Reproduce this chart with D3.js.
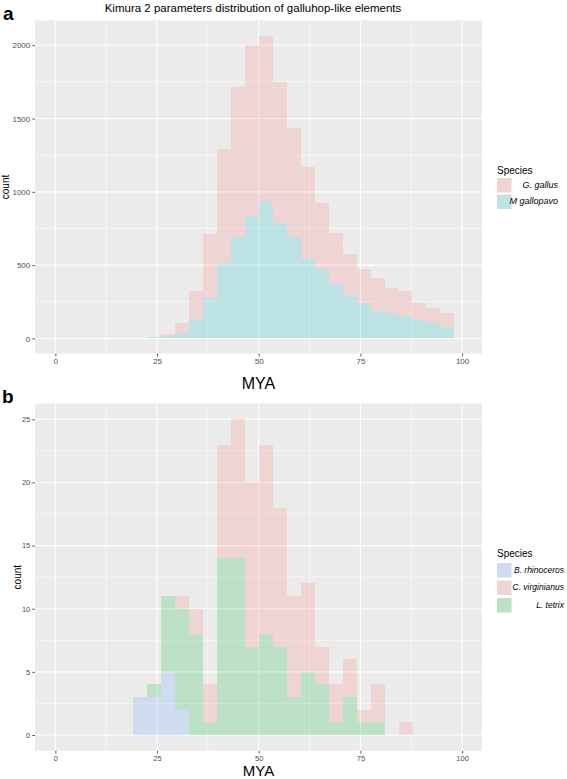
<!DOCTYPE html>
<html>
<head>
<meta charset="utf-8">
<script src="https://cdn.jsdelivr.net/npm/d3@7/dist/d3.min.js"></script>
<style>
  html, body { margin: 0; padding: 0; background: #fff; }
  svg { display: block; font-family: "Liberation Sans", Arial, Helvetica, sans-serif; }
</style>
</head>
<body>
<svg id="chart" width="567" height="779"></svg>
<script>
// ---------- Data ----------
const titleA = "Kimura 2 parameters distribution of galluhop-like elements";
const xTicks = [0, 25, 50, 75, 100];
const xMinorTicks = [12.5, 37.5, 62.5, 87.5];

// Panel a
const speciesA = ["G. gallus", "M gallopavo"];
const binStartA = [22.62, 26.05, 29.48, 32.91, 36.34, 39.77, 43.20, 46.63, 50.06, 53.49, 56.92,
                   60.35, 63.78, 67.21, 70.64, 74.07, 77.50, 80.93, 84.36, 87.79, 91.22, 94.65];
const binWidthA = 3.43;
const mGallopavo = [8, 16, 34, 130, 273, 512, 694, 837, 939, 789, 689, 541, 475, 371, 296, 239, 186, 171, 152, 125, 106, 79];
const gGallus    = [2, 13, 68, 195, 439, 780, 1019, 1165, 1127, 963, 744, 626, 451, 346, 279, 232, 224, 170, 173, 114, 99, 92];
const yTicksA = [0, 500, 1000, 1500, 2000];
const yMinorA = [250, 750, 1250, 1750];

// Panel b
const speciesB = ["B. rhinoceros", "C. virginianus", "L. tetrix"];
const binStartB = [19.03, 22.48, 25.92, 29.37, 32.81, 36.26, 39.71, 43.15, 46.60, 50.04,
                   53.49, 56.94, 60.38, 63.83, 67.27, 70.72, 74.17, 77.61, 81.06, 84.50];
const binWidthB = 3.446;
const bRhinoceros  = [3, 3, 5, 2, 0, 0, 0, 0, 0, 0, 0, 0, 0, 0, 0, 0, 0, 0, 0, 0];
const lTetrix      = [0, 1, 6, 8, 8, 1, 14, 14, 7, 8, 7, 3, 5, 4, 1, 3, 1, 1, 0, 0];
const cVirginianus = [0, 0, 0, 1, 2, 3, 9, 11, 13, 15, 11, 8, 7, 3, 3, 3, 1, 3, 0, 1];
const yTicksB = [0, 5, 10, 15, 20, 25];
const yMinorB = [2.5, 7.5, 12.5, 17.5, 22.5];

// ---------- Drawing ----------
const svg = d3.select("#chart");
const panelBg = "#EBEBEB";

function drawPanel(cfg) {
  const g = svg.append("g");
  const x = d3.scaleLinear().domain([-5, 104.9]).range([35, 482]);
  const y = d3.scaleLinear().domain(cfg.yDomain).range(cfg.yRange);
  const [x0, x1] = x.range();
  const [yb, yt] = y.range();

  g.append("rect").attr("x", x0).attr("y", yt).attr("width", x1 - x0).attr("height", yb - yt).attr("fill", panelBg);

  // minor grid
  g.selectAll(".gxm").data(xMinorTicks).join("line")
    .attr("x1", d => x(d)).attr("x2", d => x(d)).attr("y1", yt).attr("y2", yb)
    .attr("stroke", "#fff").attr("stroke-width", 0.55);
  g.selectAll(".gym").data(cfg.yMinor).join("line")
    .attr("y1", d => y(d)).attr("y2", d => y(d)).attr("x1", x0).attr("x2", x1)
    .attr("stroke", "#fff").attr("stroke-width", 0.55);
  // major grid
  g.selectAll(".gx").data(xTicks).join("line")
    .attr("x1", d => x(d)).attr("x2", d => x(d)).attr("y1", yt).attr("y2", yb)
    .attr("stroke", "#fff").attr("stroke-width", 1.1);
  g.selectAll(".gy").data(cfg.yTicks).join("line")
    .attr("y1", d => y(d)).attr("y2", d => y(d)).attr("x1", x0).attr("x2", x1)
    .attr("stroke", "#fff").attr("stroke-width", 1.1);

  // stacked bars
  const rows = cfg.binStart.map((b, i) => {
    const r = { bin: b };
    cfg.series.forEach(s => r[s.name] = s.values[i]);
    return r;
  });
  const stack = d3.stack().keys(cfg.series.map(s => s.name));
  const layers = stack(rows);
  layers.forEach((layer, li) => {
    const s = cfg.series[li];
    g.append("g").selectAll("rect").data(layer.filter(d => d[1] - d[0] > 0)).join("rect")
      .attr("x", d => x(d.data.bin))
      .attr("width", d => x(d.data.bin + cfg.binWidth) - x(d.data.bin))
      .attr("y", d => y(d[1]))
      .attr("height", d => y(d[0]) - y(d[1]))
      .attr("fill", s.color).attr("fill-opacity", 0.2)
      .attr("shape-rendering", "crispEdges");
  });

  // axes
  const ax = g.append("g").attr("transform", `translate(0,${yb})`)
    .call(d3.axisBottom(x).tickValues(xTicks).tickSize(2.75).tickPadding(2).tickFormat(d3.format("d")));
  const ay = g.append("g").attr("transform", `translate(${x0},0)`)
    .call(d3.axisLeft(y).tickValues(cfg.yTicks).tickSize(2.75).tickPadding(2).tickFormat(d3.format("d")));
  [ax, ay].forEach(a => {
    a.select(".domain").remove();
    a.selectAll(".tick line").attr("stroke", "#333").attr("stroke-width", 0.8);
    a.selectAll(".tick text").attr("fill", "#4D4D4D").attr("font-size", cfg.tickFont)
      .attr("font-family", "'Liberation Sans', Arial, sans-serif");
  });

  // axis titles
  g.append("text").attr("x", (x0 + x1) / 2).attr("y", cfg.xTitleY).attr("text-anchor", "middle")
    .attr("font-size", cfg.xTitleFont).attr("fill", "#000").text("MYA");
  g.append("text").attr("transform", `translate(${cfg.yTitleX},${(yt + yb) / 2}) rotate(-90)`)
    .attr("text-anchor", "middle").attr("font-size", 10).attr("fill", "#000").text("count");

  // legend
  const lg = g.append("g");
  lg.append("text").attr("x", 497).attr("y", cfg.legendTitleY).attr("font-size", 10)
    .attr("dominant-baseline", "middle").attr("fill", "#000").text("Species");
  cfg.legend.forEach((s, i) => {
    const ky = cfg.legendKeyY[i];
    lg.append("rect").attr("x", 497).attr("y", ky).attr("width", 14.5).attr("height", 14.5).attr("fill", panelBg);
    lg.append("rect").attr("x", 497).attr("y", ky).attr("width", 14.5).attr("height", 14.5)
      .attr("fill", s.color).attr("fill-opacity", 0.2);
    lg.append("text").attr("x", cfg.legendLabelX).attr("y", ky + 7.5).attr("text-anchor", "end")
      .attr("dominant-baseline", "middle").attr("font-size", cfg.legendFont).attr("font-style", "italic")
      .attr("fill", "#000").text(s.name);
  });
}

const colRed = "#F8766D", colCyan = "#00BFC4", colGreen = "#00BA38", colBlue = "#619CFF";

drawPanel({
  yDomain: [-103.3, 2169.3], yRange: [353.6, 20.4],
  yTicks: yTicksA, yMinor: yMinorA,
  binStart: binStartA, binWidth: binWidthA,
  series: [ { name: speciesA[1], values: mGallopavo, color: colCyan },
            { name: speciesA[0], values: gGallus, color: colRed } ],
  legend: [ { name: speciesA[0], color: colRed }, { name: speciesA[1], color: colCyan } ],
  tickFont: 8, xTitleY: 389, xTitleFont: 16, yTitleX: 9,
  legendTitleY: 171, legendKeyY: [178, 194.5], legendLabelX: 558, legendFont: 9
});

drawPanel({
  yDomain: [-1.25, 26.25], yRange: [750.8, 403.5],
  yTicks: yTicksB, yMinor: yMinorB,
  binStart: binStartB, binWidth: binWidthB,
  series: [ { name: speciesB[0], values: bRhinoceros, color: colBlue },
            { name: speciesB[2], values: lTetrix, color: colGreen },
            { name: speciesB[1], values: cVirginianus, color: colRed } ],
  legend: [ { name: speciesB[0], color: colBlue }, { name: speciesB[1], color: colRed }, { name: speciesB[2], color: colGreen } ],
  tickFont: 7.5, xTitleY: 775.5, xTitleFont: 15, yTitleX: 21,
  legendTitleY: 554, legendKeyY: [563, 580.5, 598], legendLabelX: 564, legendFont: 8.5
});

// title and panel letters
svg.append("text").attr("x", 253).attr("y", 12).attr("text-anchor", "middle")
  .attr("font-size", 11.5).attr("fill", "#000").text(titleA);
svg.append("text").attr("x", 3).attr("y", 20).attr("font-size", 19).attr("font-weight", "bold")
  .attr("fill", "#000").text("a");
svg.append("text").attr("x", 2).attr("y", 403).attr("font-size", 19).attr("font-weight", "bold")
  .attr("fill", "#000").text("b");
</script>
</body>
</html>
